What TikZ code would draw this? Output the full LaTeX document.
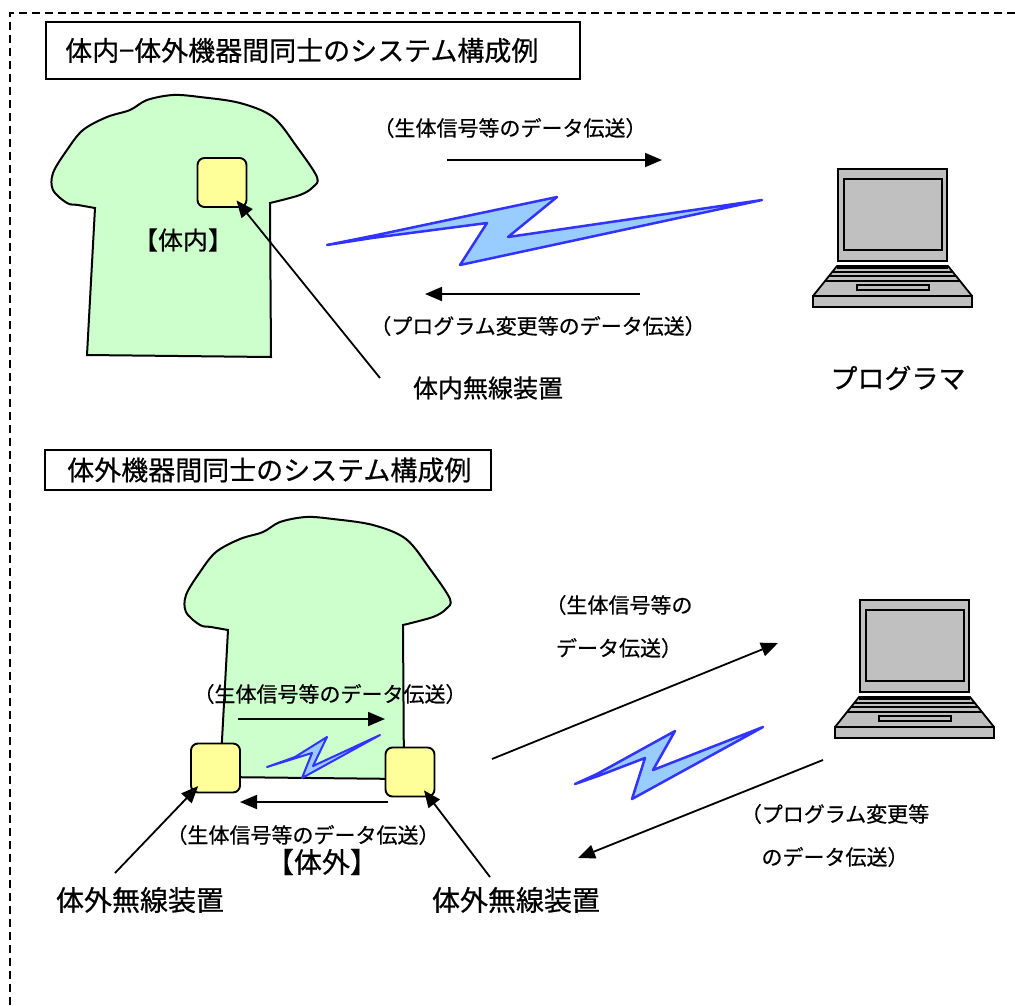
\documentclass[tikz,border=0pt]{standalone}
\usepackage{fontspec}
\setmainfont{Noto Sans CJK JP}[FakeBold=0.6]
\usetikzlibrary{arrows.meta, positioning}

\definecolor{shirtgreen}{HTML}{CCFFCC}
\definecolor{devyellow}{HTML}{FFFF99}
\definecolor{boltfill}{HTML}{99CCFF}
\definecolor{boltline}{HTML}{3333FF}
\definecolor{pcgray}{HTML}{C0C0C0}

\tikzset{
  frame/.style={draw, dash pattern=on 8pt off 5pt, line width=1.3pt},
  titlebox/.style={draw, line width=1.6pt, inner sep=0pt},
  titletext/.style={inner sep=0pt, anchor=west, font=\fontsize{27}{32}\selectfont},
  device/.style={draw, fill=devyellow, line width=1.9pt, rounded corners=7pt, minimum size=49pt, inner sep=0pt},
  bigtext/.style={inner sep=0pt, font=\fontsize{25}{30}\selectfont},
  hugetext/.style={inner sep=0pt, font=\fontsize{28}{33}\selectfont},
  msgtext/.style={inner sep=0pt, font=\fontsize{21}{43}\selectfont, align=center},
  bolt/.style={draw=boltline, fill=boltfill, line width=2.5pt, line join=round},
  link/.style={->, line width=1.8pt},
  % T-shirt outline
  shirt/.pic={
    \draw[fill=shirtgreen, line width=2pt]
      plot[smooth, tension=0.55] coordinates {(45,118) (28,115) (17,113) (3,100) (3,83) (17,60) (33,40)
        (57,27) (80,20) (97,10) (123,5) (150,7) (190,13) (223,27) (247,57) (267,87) (263,97) (250,105) (220,113)}
      -- (221,267) -- (37,265) -- cycle;
  },
  % notebook pc
  laptop/.pic={
    \draw[fill=pcgray, line width=1.8pt] (25,0) rectangle (134,92);
    \draw[fill=pcgray, line width=1.8pt] (31,10) rectangle (129,81);
    \draw[fill=pcgray, line width=1.8pt, line join=round] (24,97) -- (135,97) -- (159,127) -- (0,127) -- cycle;
    \draw[fill=pcgray, line width=1.8pt] (0,127) rectangle (159,138);
    \foreach \y/\a/\b in {99/24/135, 103/20/139, 107/16/143, 112/12/147}
      \draw[line width=2.2pt] (\a,\y) -- (\b,\y);
    \draw[fill=pcgray, line width=1.8pt] (44,116) rectangle (116,121);
  }
}

\begin{document}
\begin{tikzpicture}[x=1pt, y=-1pt, >={Triangle[length=17pt, width=14pt]}]
  \useasboundingbox (0,0) rectangle (1015,1005);
  \draw[frame] (1015,13) -- (10,13) -- (10,1005);

  %% upper half: implant <-> programmer
  \node[titlebox, minimum width=534pt, minimum height=57pt] (title1) at (313,50.5) {};
  \node[titletext] (title1txt) at (65,50.5) {体内−体外機器間同士のシステム構成例};

  \pic at (50,90) {shirt};
  \node[device] (inDev) at (222,182.5) {};
  \node[bigtext] (inTag) at (183,240) {【体内】};
  \node[bigtext] (inName) at (488,388) {体内無線装置};
  \coordinate (inFoot) at (380,378);
  \draw[link, shorten >=23pt] (inFoot) -- (inDev.center);

  \pic at (813,169) {laptop};
  \node[bigtext, font=\fontsize{27}{32}\selectfont] (prog) at (898,378) {プログラマ};

  \node[msgtext] (upMsg) at (510,128) {（生体信号等のデータ伝送）};
  \coordinate (upA) at (447,160);
  \coordinate (upB) at (662,160);
  \draw[link] (upA) -- (upB);

  \draw[bolt] (327,245) -- (372,236) -- (557,197) -- (508,237) -- (762,200) -- (460,265) -- (487,223) -- (372,238) -- cycle;

  \coordinate (dnA) at (640,294);
  \coordinate (dnB) at (425,294);
  \draw[link] (dnA) -- (dnB);
  \node[msgtext] (dnMsg) at (538,326) {（プログラム変更等のデータ伝送）};

  %% lower half: wearable <-> wearable <-> programmer
  \node[titlebox, minimum width=446pt, minimum height=40pt] (title2) at (268,470) {};
  \node[titletext] (title2txt) at (67,470) {体外機器間同士のシステム構成例};

  \pic at (183,512) {shirt};
  \node[msgtext] (midMsg) at (330,694) {（生体信号等のデータ伝送）};
  \coordinate (midA) at (238,719);
  \coordinate (midB) at (385,719);
  \draw[link] (midA) -- (midB);
  \draw[bolt, line width=2pt] (267,767) -- (295,757) -- (327,737) -- (313,766) -- (380,735) -- (302,778) -- (312,753) -- (296,758) -- cycle;

  \node[device] (exDevL) at (215.5,768) {};
  \node[device] (exDevR) at (410,772) {};

  \coordinate (backA) at (388,802);
  \coordinate (backB) at (240,802);
  \draw[link] (backA) -- (backB);
  \node[msgtext] (backMsg) at (303,835) {（生体信号等のデータ伝送）};
  \node[hugetext] (exTag) at (322,862) {【体外】};

  \node[hugetext] (exNameL) at (140,900) {体外無線装置};
  \node[hugetext] (exNameR) at (516,900) {体外無線装置};
  \coordinate (footL) at (115,873);
  \coordinate (footR) at (490,877);
  \draw[link, shorten >=25pt] (footL) -- (exDevL.center);
  \draw[link, shorten >=23pt] (footR) -- (exDevR.center);

  \pic at (835,600) {laptop};

  \coordinate (outA) at (492,759);
  \coordinate (outB) at (778,643);
  \draw[link] (outA) -- (outB);
  \node[msgtext] (outMsg) at (619,626.5) {（生体信号等の\\データ伝送）};

  \draw[bolt] (575,784) -- (597,774) -- (675,731) -- (653,770) -- (763,727) -- (632,799) -- (645,758) -- (598,776) -- cycle;

  \coordinate (inA) at (823,760);
  \coordinate (inB) at (578,858);
  \draw[link] (inA) -- (inB);
  \node[msgtext] (inMsg) at (835,835.5) {（プログラム変更等\\のデータ伝送）};
\end{tikzpicture}
\end{document}
